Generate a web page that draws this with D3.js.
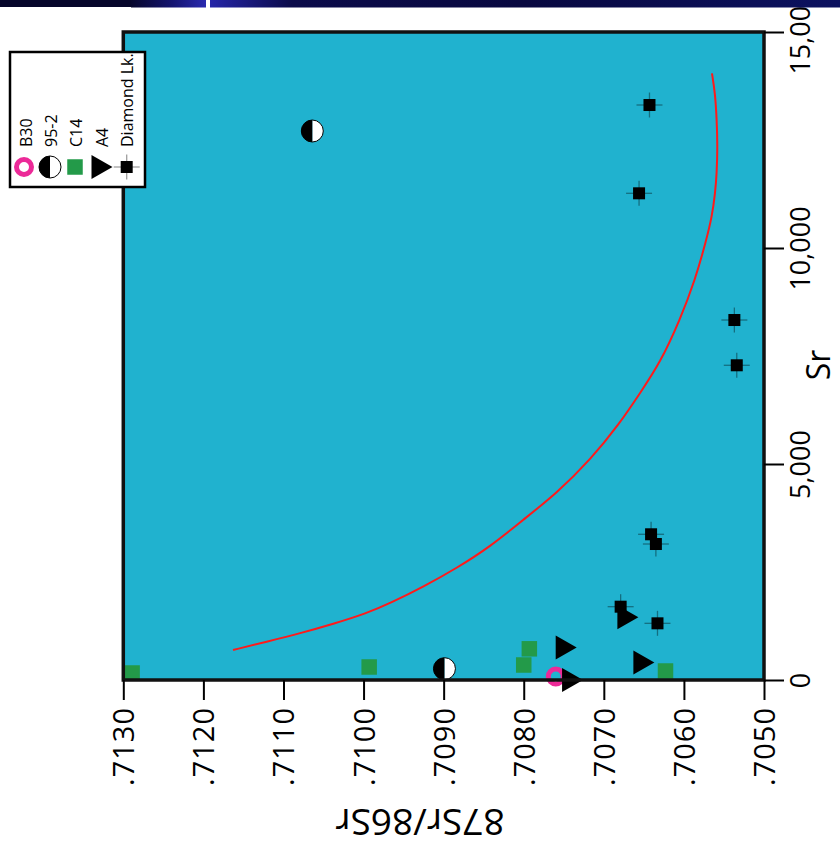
<!DOCTYPE html>
<html>
<head>
<meta charset="utf-8">
<script src="https://cdn.jsdelivr.net/npm/d3@7"></script>
<style>
  html, body { margin: 0; padding: 0; background: #fff; }
  svg { display: block; }
  text { font-family: "Open Sans", sans-serif; fill: #000; }
</style>
</head>
<body>
<svg id="chart" width="840" height="852"></svg>
<script>
// ---- data: [87Sr/86Sr, Sr (ppm)] ----
const b30 = [[0.70760, 81]];
const site952 = [[0.71064, 12708], [0.70899, 262]];
const c14 = [[0.71289, 162], [0.70993, 301], [0.70793, 722], [0.70800, 347], [0.70623, 208]];
const a4 = [[0.70670, 1451], [0.70747, 752], [0.70650, 405], [0.70739, 0]];
const diamondLk = [
  [0.70643, 13310], [0.70656, 11266], [0.70537, 8333], [0.70534, 7285],
  [0.70641, 3373], [0.70635, 3148], [0.70679, 1697], [0.70633, 1312]
];
// mixing curve
const mixCurve = [
  [0.71163, 694], [0.71121, 887], [0.71079, 1081], [0.71038, 1296], [0.70996, 1544],
  [0.70967, 1775], [0.70925, 2160], [0.70884, 2586], [0.70842, 3086], [0.70801, 3704],
  [0.70759, 4322], [0.70717, 5093], [0.70680, 5942], [0.70655, 6637], [0.70630, 7331],
  [0.70605, 8333], [0.70586, 9259], [0.70572, 10185], [0.70565, 10725], [0.70561, 11266],
  [0.70559, 11729], [0.70558, 12345], [0.70559, 12963], [0.70561, 13581], [0.70565, 14044]
];

const ratioTicks = [0.7130, 0.7120, 0.7110, 0.7100, 0.7090, 0.7080, 0.7070, 0.7060, 0.7050];
const ratioTickLabels = [".7130", ".7120", ".7110", ".7100", ".7090", ".7080", ".7070", ".7060", ".7050"];
const srTicks = [0, 5000, 10000, 15000];
const legendNames = ["B30", "95-2", "C14", "A4", "Diamond Lk."];

// ---- layout ----
const svg = d3.select("#chart");
const plot = { left: 123.3, right: 764, top: 32, bottom: 680 };

const x = d3.scaleLinear().domain([0.7130, 0.7050]).range([plot.left, plot.right]);
const y = d3.scaleLinear().domain([0, 15000]).range([plot.bottom, plot.top]);

const colors = {
  bg: "#20b2cf",
  green: "#239a49",
  magenta: "#ec2a98",
  red: "#ff1a1a",
  err: "rgba(0,0,0,0.38)"
};

// ---- plot background ----
svg.append("rect")
  .attr("x", plot.left).attr("y", plot.top)
  .attr("width", plot.right - plot.left).attr("height", plot.bottom - plot.top)
  .attr("fill", colors.bg);

// ---- mixing curve ----
svg.append("path")
  .datum(mixCurve)
  .attr("fill", "none")
  .attr("stroke", colors.red)
  .attr("stroke-width", 2)
  .attr("d", d3.line().x(d => x(d[0])).y(d => y(d[1])).curve(d3.curveBasis));

// ---- symbol helpers ----
function ring(g, cx, cy) {
  g.append("circle").attr("cx", cx).attr("cy", cy).attr("r", 7.5)
    .attr("fill", "none").attr("stroke", colors.magenta).attr("stroke-width", 5);
}
function halfCircle(g, cx, cy) {
  const r = 11;
  g.append("path")
    .attr("d", `M${cx},${cy - r} A${r},${r} 0 0,1 ${cx},${cy + r} Z`)
    .attr("fill", "#fff");
  g.append("path")
    .attr("d", `M${cx},${cy - r} A${r},${r} 0 0,0 ${cx},${cy + r} Z`)
    .attr("fill", "#000");
  g.append("circle").attr("cx", cx).attr("cy", cy).attr("r", r)
    .attr("fill", "none").attr("stroke", "#000").attr("stroke-width", 1);
}
function greenSquare(g, cx, cy) {
  const s = 15.5;
  g.append("rect").attr("x", cx - s / 2).attr("y", cy - s / 2)
    .attr("width", s).attr("height", s).attr("fill", colors.green);
}
function triangle(g, cx, cy) {
  g.append("path")
    .attr("d", `M${cx - 10.5},${cy - 12} L${cx + 10.5},${cy} L${cx - 10.5},${cy + 12} Z`)
    .attr("fill", "#000");
}
function errSquare(g, cx, cy) {
  g.append("line").attr("x1", cx - 13).attr("x2", cx + 13).attr("y1", cy).attr("y2", cy)
    .attr("stroke", colors.err).attr("stroke-width", 1.3);
  g.append("line").attr("x1", cx).attr("x2", cx).attr("y1", cy - 12.5).attr("y2", cy + 12.5)
    .attr("stroke", colors.err).attr("stroke-width", 1.3);
  const s = 12;
  g.append("rect").attr("x", cx - s / 2).attr("y", cy - s / 2)
    .attr("width", s).attr("height", s).attr("fill", "#000");
}

// ---- data points ----
const pts = svg.append("g");
b30.forEach(d => ring(pts, x(d[0]), y(d[1])));
site952.forEach(d => halfCircle(pts, x(d[0]), y(d[1])));
c14.forEach(d => greenSquare(pts, x(d[0]), y(d[1])));
a4.forEach(d => triangle(pts, x(d[0]), y(d[1])));
diamondLk.forEach(d => errSquare(pts, x(d[0]), y(d[1])));

// ---- frame ----
svg.append("rect")
  .attr("x", plot.left).attr("y", plot.top)
  .attr("width", plot.right - plot.left).attr("height", plot.bottom - plot.top)
  .attr("fill", "none").attr("stroke", "#111").attr("stroke-width", 3.5);

// ---- bottom axis (87Sr/86Sr) ----
const xAxis = svg.append("g")
  .attr("transform", `translate(0,${plot.bottom})`)
  .call(d3.axisBottom(x).tickValues(ratioTicks).tickSize(20).tickSizeOuter(0)
    .tickFormat((d, i) => ratioTickLabels[i]));
xAxis.select(".domain").remove();
xAxis.selectAll(".tick line").attr("stroke", "#000").attr("stroke-width", 2);
xAxis.selectAll(".tick text")
  .attr("transform", "rotate(-90)")
  .attr("x", -27).attr("y", 0).attr("dy", "0.36em")
  .attr("text-anchor", "end")
  .style("font-size", "29px")
  .style("letter-spacing", "1px")
  .style("font-family", "'Open Sans', sans-serif");

// ---- right axis (Sr) ----
const yAxis = svg.append("g")
  .attr("transform", `translate(${plot.right},0)`)
  .call(d3.axisRight(y).tickValues(srTicks).tickSize(20).tickSizeOuter(0)
    .tickFormat(d3.format(",")));
yAxis.select(".domain").remove();
yAxis.selectAll(".tick line").attr("stroke", "#000").attr("stroke-width", 2);
yAxis.selectAll(".tick text")
  .attr("transform", "rotate(-90)")
  .attr("x", 0).attr("y", 46).attr("dy", 0)
  .attr("text-anchor", "middle")
  .style("font-size", "27px")
  .style("font-family", "'Open Sans', sans-serif");

// ---- axis titles ----
svg.append("text")
  .attr("transform", "translate(830,365) rotate(-90)")
  .attr("text-anchor", "middle")
  .style("font-size", "32px")
  .text("Sr");
svg.append("text")
  .attr("transform", "translate(420,809) rotate(180)")
  .attr("text-anchor", "middle")
  .style("font-size", "37px")
  .text("87Sr/86Sr");

// ---- header strip (drawn over the top of the axis labels) ----
const defs = svg.append("defs");
const g1 = defs.append("linearGradient").attr("id", "hdrA").attr("x1", 0).attr("x2", 1);
g1.append("stop").attr("offset", 0).attr("stop-color", "#07072c");
g1.append("stop").attr("offset", 0.55).attr("stop-color", "#141470");
g1.append("stop").attr("offset", 1).attr("stop-color", "#2a2ab0");
const g2 = defs.append("linearGradient").attr("id", "hdrB").attr("x1", 0).attr("x2", 1);
g2.append("stop").attr("offset", 0).attr("stop-color", "#2525a8");
g2.append("stop").attr("offset", 0.13).attr("stop-color", "#0b0b4a");
g2.append("stop").attr("offset", 0.5).attr("stop-color", "#080840");
g2.append("stop").attr("offset", 1).attr("stop-color", "#0c1260");
svg.append("rect").attr("x", 0).attr("y", 0).attr("width", 131).attr("height", 7).attr("fill", "#06062a");
svg.append("rect").attr("x", 131).attr("y", 0).attr("width", 75).attr("height", 7.5).attr("fill", "url(#hdrA)");
svg.append("rect").attr("x", 210).attr("y", 0).attr("width", 630).attr("height", 7.5).attr("fill", "url(#hdrB)");

// ---- legend ----
const leg = svg.append("g");
leg.append("rect").attr("x", 10).attr("y", 52).attr("width", 135).attr("height", 135)
  .attr("fill", "#fff").attr("stroke", "#000").attr("stroke-width", 2.5);
const legX = [24, 50, 75, 102, 126.7];
const legBase = [31.5, 57, 82, 108, 133];
const legSym = [ring, halfCircle, greenSquare, triangle, errSquare];
legendNames.forEach((name, i) => {
  legSym[i](leg, legX[i], 167);
  leg.append("text")
    .attr("transform", `translate(${legBase[i]},147) rotate(-90)`)
    .attr("text-anchor", "start")
    .style("font-size", "16px")
    .text(name);
});
</script>
</body>
</html>
